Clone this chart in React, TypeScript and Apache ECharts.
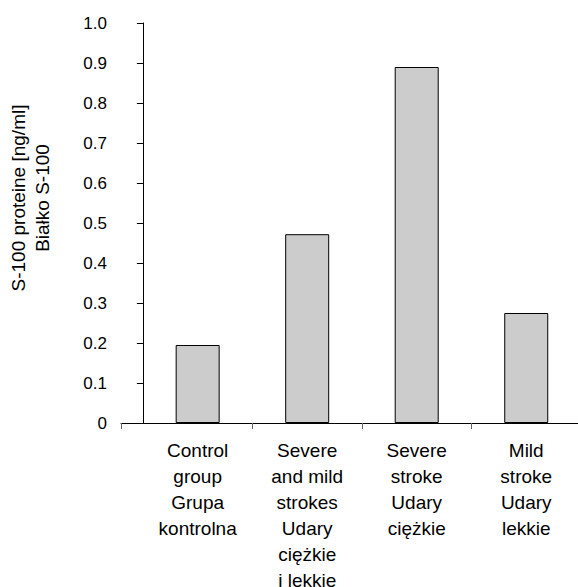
import React, { useEffect, useRef } from "react";
import * as echarts from "echarts";

const categories = [
  "Control\ngroup\nGrupa\nkontrolna",
  "Severe\nand mild\nstrokes\nUdary\nciężkie\ni lekkie",
  "Severe\nstroke\nUdary\nciężkie",
  "Mild\nstroke\nUdary\nlekkie",
];
const values = [0.195, 0.472, 0.89, 0.275];
const yTitle = "S-100 proteine [ng/ml]\nBiałko S-100";

const FONT = "'Liberation Sans', Arial, sans-serif";

export default function App() {
  const ref = useRef<HTMLDivElement>(null);
  useEffect(() => {
    if (!ref.current) return;
    const chart = echarts.init(ref.current, undefined, { renderer: "svg" });
    const centers = categories.map((_, i) => i + 0.5);
    const bounds = categories.slice(1).map((_, i) => i + 1);
    const xMin = -0.2;
    chart.setOption({
      animation: false,
      backgroundColor: "#ffffff",
      textStyle: { fontFamily: FONT },
      grid: { left: 121, right: -3, top: 23, bottom: 164, outerBoundsMode: "none" },
      xAxis: {
        type: "value",
        min: xMin,
        max: categories.length,
        axisLine: { show: true, onZero: false, lineStyle: { color: "#000", width: 1 } },
        axisTick: {
          show: true,
          customValues: [xMin, ...bounds],
          length: 6,
          lineStyle: { color: "#666", width: 1 },
        },
        axisLabel: {
          show: true,
          customValues: centers,
          formatter: (v: number) => categories[Math.round(v - 0.5)] ?? "",
          color: "#000",
          fontSize: 19,
          lineHeight: 26,
          margin: 14,
          fontFamily: FONT,
        },
        splitLine: { show: false },
      },
      yAxis: {
        type: "value",
        min: 0,
        max: 1,
        interval: 0.1,
        axisLine: { show: true, lineStyle: { color: "#000", width: 1 } },
        axisTick: { show: true, length: 6, lineStyle: { color: "#000", width: 1 } },
        axisLabel: {
          formatter: (v: number) => (v === 0 ? "0" : v.toFixed(1)),
          color: "#000",
          fontSize: 17,
          margin: 14,
          fontFamily: FONT,
        },
        splitLine: { show: false },
      },
      graphic: [
        {
          type: "text",
          x: 30,
          y: 198,
          rotation: Math.PI / 2,
          style: {
            text: yTitle,
            align: "center",
            verticalAlign: "middle",
            fontSize: 19,
            lineHeight: 24,
            fontFamily: FONT,
            fill: "#000",
          },
        },
      ],
      series: [
        {
          type: "bar",
          data: values.map((v, i) => [centers[i], v]),
          barWidth: 44,
          itemStyle: { color: "#cccccc", borderColor: "#000", borderWidth: 1 },
        },
      ],
    });
    return () => chart.dispose();
  }, []);
  return (
    <div
      ref={ref}
      style={{ position: "fixed", left: 0, top: 0, width: 578, height: 587, background: "#fff" }}
    />
  );
}
